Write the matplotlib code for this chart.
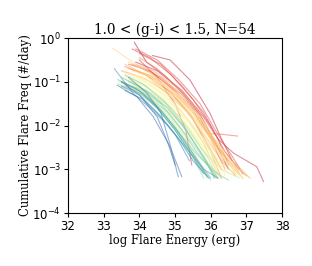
import numpy as np
import matplotlib.pyplot as plt

plt.rcParams['font.family'] = 'DejaVu Serif'

# log energy / log cumulative frequency for each star, red -> blue
E = [
    [33.86, 34.2, 34.7, 35.2, 35.7, 36.1, 36.5],
    [34.37, 34.86, 35.42, 35.98, 36.3, 36.6],
    [33.9, 34.5, 35.2, 35.8, 36.2, 36.64, 37.29, 37.48],
    [34.0, 34.5, 35.0, 35.3, 35.47],
    [33.8, 34.3, 34.9, 35.5, 36.0, 36.4, 36.8],
    [34.0, 34.6, 35.2, 35.8, 36.2, 36.5],
    [33.9, 34.5, 35.1, 35.7, 36.2, 36.6, 36.9],
    [33.7, 34.3, 34.9, 35.5, 36.0, 36.4],
    [34.1, 34.6, 35.2, 35.7, 35.9, 36.3, 36.75],
    [33.8, 34.4, 35.0, 35.6, 36.1, 36.5, 37.0],
    [33.6, 34.2, 34.8, 35.4, 35.9, 36.3],
    [34.0, 34.5, 35.1, 35.6, 36.0, 36.4, 36.8],
    [33.7, 34.3, 34.9, 35.5, 36.0, 36.3],
    [33.5, 34.1, 34.7, 35.3, 35.9, 36.3, 36.7],
    [33.9, 34.4, 35.0, 35.6, 36.1, 36.6, 37.1],
    [33.6, 34.2, 34.8, 35.4, 35.8, 36.2],
    [34.0, 34.5, 35.1, 35.7, 36.2, 36.7],
    [33.8, 34.4, 35.0, 35.5, 36.0, 36.5, 36.9],
    [33.7, 34.3, 34.9, 35.5, 36.0, 36.4],
    [33.25, 33.74, 34.3, 34.9, 35.5, 36.0, 36.4, 36.9],
    [33.6, 34.2, 34.8, 35.4, 35.9, 36.3, 36.8],
    [33.8, 34.4, 35.0, 35.6, 36.1, 36.5, 37.1],
    [33.5, 34.1, 34.7, 35.3, 35.8, 36.2],
    [34.0, 34.5, 35.1, 35.6, 36.0, 36.4],
    [33.7, 34.3, 34.9, 35.5, 36.0, 36.5, 36.9],
    [33.6, 34.2, 34.8, 35.4, 35.9, 36.3],
    [33.9, 34.5, 35.1, 35.7, 36.2, 36.7],
    [33.5, 34.0, 34.6, 35.2, 35.8, 36.2],
    [33.7, 34.3, 34.9, 35.4, 35.9, 36.3, 36.6],
    [33.8, 34.4, 35.0, 35.5, 36.0, 36.4],
    [33.6, 34.1, 34.7, 35.3, 35.8, 36.2],
    [33.6, 34.2, 34.8, 35.4, 35.9, 36.4, 36.9],
    [33.5, 34.0, 34.6, 35.2, 35.7, 36.2],
    [33.7, 34.2, 34.8, 35.3, 35.8, 36.1],
    [33.4, 34.0, 34.6, 35.1, 35.6, 35.9],
    [33.6, 34.1, 34.7, 35.3, 35.8, 36.3, 36.8],
    [33.5, 34.0, 34.6, 35.0, 35.4, 35.9],
    [33.8, 34.3, 34.9, 35.4, 35.9, 36.2],
    [33.5, 34.0, 34.5, 35.0, 35.5, 36.0],
    [33.7, 34.2, 34.8, 35.3, 35.8, 36.3],
    [33.4, 33.9, 34.5, 35.0, 35.5, 35.8],
    [33.6, 34.1, 34.6, 35.1, 35.6, 36.1, 36.5],
    [33.6, 34.1, 34.7, 35.2, 35.7, 36.15],
    [33.5, 34.0, 34.6, 35.1, 35.6, 36.2],
    [33.7, 34.2, 34.8, 35.3, 35.8, 36.1],
    [33.4, 33.9, 34.5, 35.0, 35.5, 35.9],
    [33.6, 34.1, 34.6, 35.1, 35.6, 36.0],
    [33.5, 34.0, 34.5, 35.0, 35.4, 35.8],
    [33.3, 33.83, 34.3, 34.8, 35.3, 35.8, 36.2],
    [33.5, 34.0, 34.5, 35.0, 35.4],
    [33.6, 34.1, 34.6, 35.1, 35.5, 35.95],
    [33.7, 34.2, 34.6, 34.85, 35.09],
    [33.38, 33.93, 34.39, 34.86, 35.19],
    [33.5, 34.0, 34.5, 34.8, 35.0],
]
logF = [
    [-0.10, -0.55, -0.85, -1.25, -1.75, -2.35, -3.0],
    [-0.40, -0.50, -0.96, -1.72, -2.3, -2.8],
    [-0.55, -0.75, -1.2, -1.8, -2.3, -2.63, -2.94, -3.28],
    [-0.5, -0.9, -1.5, -2.1, -2.9],
    [-0.25, -0.45, -0.85, -1.4, -2.0, -2.6, -3.0],
    [-0.35, -0.6, -1.1, -1.7, -2.3, -2.9],
    [-0.25, -0.5, -0.95, -1.5, -2.2, -2.7, -3.1],
    [-0.6, -0.75, -1.15, -1.65, -2.3, -3.0],
    [-0.7, -0.9, -1.3, -1.8, -2.18, -2.2, -2.24],
    [-0.6, -0.8, -1.2, -1.7, -2.4, -2.8, -3.15],
    [-0.65, -0.85, -1.2, -1.7, -2.4, -3.0],
    [-0.45, -0.7, -1.15, -1.6, -2.2, -2.7, -3.1],
    [-0.7, -0.85, -1.25, -1.85, -2.6, -3.2],
    [-0.75, -0.9, -1.2, -1.65, -2.3, -2.8, -3.15],
    [-0.6, -0.75, -1.1, -1.6, -2.3, -2.8, -3.2],
    [-0.6, -0.85, -1.3, -1.9, -2.4, -3.1],
    [-0.8, -0.95, -1.35, -1.9, -2.5, -3.1],
    [-0.7, -0.9, -1.3, -1.8, -2.2, -2.75, -3.2],
    [-0.55, -0.8, -1.2, -1.7, -2.3, -2.9],
    [-0.23, -0.51, -0.8, -1.2, -1.7, -2.3, -2.8, -3.2],
    [-0.8, -0.95, -1.25, -1.7, -2.2, -2.7, -3.1],
    [-0.75, -0.9, -1.25, -1.75, -2.35, -2.8, -3.2],
    [-0.75, -0.95, -1.3, -1.8, -2.3, -2.9],
    [-0.9, -1.05, -1.4, -1.9, -2.5, -3.1],
    [-0.8, -1.0, -1.35, -1.85, -2.4, -2.9, -3.2],
    [-0.85, -1.0, -1.4, -1.95, -2.6, -3.1],
    [-0.85, -1.0, -1.3, -1.8, -2.4, -3.0],
    [-0.85, -1.0, -1.35, -1.85, -2.5, -3.1],
    [-0.95, -1.1, -1.45, -1.9, -2.4, -2.9, -3.2],
    [-0.9, -1.1, -1.5, -2.0, -2.6, -3.15],
    [-0.95, -1.1, -1.45, -1.95, -2.5, -3.05],
    [-0.95, -1.1, -1.45, -1.95, -2.5, -2.95, -3.2],
    [-1.0, -1.15, -1.5, -2.0, -2.6, -3.2],
    [-0.9, -1.1, -1.5, -2.0, -2.6, -3.2],
    [-1.0, -1.15, -1.55, -2.05, -2.7, -3.2],
    [-1.05, -1.2, -1.55, -2.05, -2.6, -3.0, -3.2],
    [-1.0, -1.2, -1.6, -2.0, -2.5, -3.2],
    [-1.1, -1.25, -1.6, -2.1, -2.7, -3.2],
    [-1.1, -1.25, -1.6, -2.1, -2.7, -3.25],
    [-1.15, -1.3, -1.7, -2.2, -2.75, -3.2],
    [-1.05, -1.2, -1.6, -2.1, -2.7, -3.2],
    [-1.1, -1.3, -1.65, -2.15, -2.65, -3.05, -3.25],
    [-0.85, -1.05, -1.45, -1.95, -2.6, -3.2],
    [-0.9, -1.1, -1.5, -2.0, -2.6, -3.2],
    [-1.0, -1.2, -1.6, -2.1, -2.7, -3.2],
    [-0.95, -1.15, -1.55, -2.05, -2.65, -3.15],
    [-1.05, -1.25, -1.65, -2.15, -2.75, -3.2],
    [-1.0, -1.2, -1.6, -2.1, -2.6, -3.1],
    [-0.70, -1.27, -1.6, -2.0, -2.5, -3.0, -3.2],
    [-1.1, -1.3, -1.7, -2.2, -2.8],
    [-1.2, -1.4, -1.8, -2.3, -2.8, -3.2],
    [-0.9, -1.25, -1.7, -2.4, -3.17],
    [-1.08, -1.34, -1.80, -2.48, -3.17],
    [-1.0, -1.3, -1.8, -2.4, -2.9],
]

fig = plt.figure(figsize=(3.12, 2.66), dpi=100)
ax = fig.add_axes([0.218, 0.199, 0.686, 0.658])

cmap = plt.get_cmap('Spectral')
n = len(E)
for k in range(n):
    ax.plot(E[k], 10**np.array(logF[k]), color=cmap(0.05 + 0.9*k/(n-1)), alpha=0.55, lw=0.8)

ax.set_yscale('log')
ax.set_xlim(32, 38)
ax.set_ylim(1e-4, 1)
ax.minorticks_off()
ax.set_xticks([32, 33, 34, 35, 36, 37, 38])
ax.set_yticks([1e-4, 1e-3, 1e-2, 1e-1, 1])
ax.set_xticklabels(['32', '33', '34', '35', '36', '37', '38'], family='DejaVu Sans')
ax.set_yticklabels(['$10^{-4}$', '$10^{-3}$', '$10^{-2}$', '$10^{-1}$', '$10^{0}$'], family='DejaVu Sans')
ax.tick_params(labelsize=8.5, length=3, pad=2)
ax.set_xlabel('log Flare Energy (erg)', fontsize=8.3, labelpad=1)
ax.set_ylabel('Cumulative Flare Freq (#/day)', fontsize=8.4, labelpad=0)
ax.set_title('1.0 < (g-i) < 1.5, N=' + str(n), fontsize=9.8, pad=3)

fig.savefig('out.png', dpi=100)
